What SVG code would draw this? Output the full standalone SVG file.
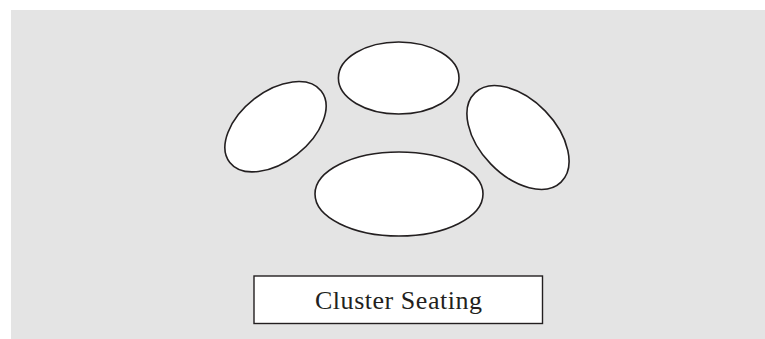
<svg xmlns="http://www.w3.org/2000/svg" width="765" height="339" viewBox="0 0 765 339">
<style>
.table{fill:#ffffff;stroke:#231f20;stroke-width:1.6}
.label{fill:#ffffff;stroke:#231f20;stroke-width:1.4}
.txt{font-family:"Liberation Serif","DejaVu Serif",serif;font-size:26px;fill:#231f20;text-anchor:middle}
</style>
<rect x="11" y="10" width="754" height="329" fill="#e4e4e4"/>
<g id="table-top"><ellipse class="table" cx="398.7" cy="78" rx="60.3" ry="36"/></g>
<g id="table-left"><ellipse class="table" cx="275.5" cy="126.7" rx="58" ry="35" transform="rotate(-38 275.5 126.7)"/></g>
<g id="table-right"><ellipse class="table" cx="518" cy="137.5" rx="62" ry="38" transform="rotate(46 518 137.5)"/></g>
<g id="table-bottom"><ellipse class="table" cx="399" cy="194" rx="84" ry="42"/></g>
<g id="label"><rect class="label" x="254" y="276" width="288.5" height="47.5"/><text class="txt" x="398.5" y="309" textLength="167" lengthAdjust="spacing">Cluster Seating</text></g>
<g id="connectors"></g>
</svg>
